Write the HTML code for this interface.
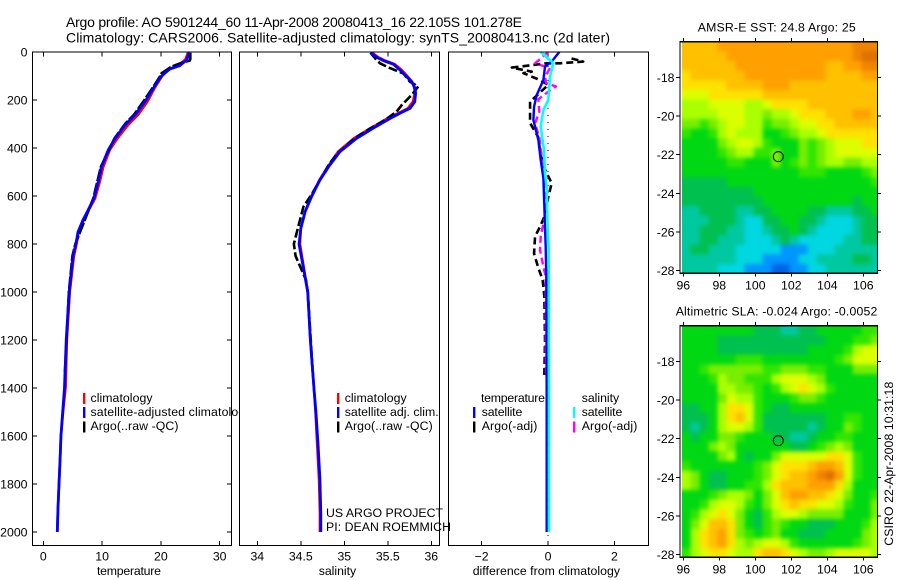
<!DOCTYPE html>
<html lang="en">
<head>
<meta charset="utf-8">
<title>Argo profile 5901244_60</title>
<style>
html,body{margin:0;padding:0;background:#fff;}
svg{display:block;font-family:"Liberation Sans",sans-serif;fill:#000;}
text{font-size:12.3px;}
.title{font-size:14px;}
.frame{fill:none;stroke:#000;stroke-width:1.2;shape-rendering:crispEdges;}
.tick{stroke:#000;stroke-width:1;shape-rendering:crispEdges;}
</style>
</head>
<body>
<svg id="chart" xmlns="http://www.w3.org/2000/svg" width="900" height="580" viewBox="0 0 900 580">
  <rect x="0" y="0" width="900" height="580" fill="#fff"/>
  <text class="title" x="66" y="27" textLength="456">Argo profile: AO 5901244_60 11-Apr-2008 20080413_16 22.105S 101.278E</text>
  <text class="title" x="66" y="42.5" textLength="544">Climatology: CARS2006. Satellite-adjusted climatology: synTS_20080413.nc (2d later)</text>

  <g id="panel-temp"></g>
  <g>
    <rect x="83" y="393" width="2.4" height="11" fill="#f00"/>
    <rect x="83" y="407" width="2.4" height="11" fill="#00f"/>
    <rect x="83" y="421.5" width="2.4" height="11" fill="#000"/>
    <text x="90.5" y="402" textLength="62">climatology</text>
    <text x="90.5" y="416" textLength="161">satellite-adjusted climatology</text>
    <text x="90.5" y="430" textLength="88">Argo(..raw -QC)</text>
  </g>

  <g id="panel-sal"></g>
  <g>
    <rect x="337" y="393" width="2.4" height="11" fill="#f00"/>
    <rect x="337" y="407" width="2.4" height="11" fill="#00f"/>
    <rect x="337" y="421.5" width="2.4" height="11" fill="#000"/>
    <text x="344.7" y="402" textLength="62">climatology</text>
    <text x="344.7" y="416" textLength="94">satellite adj. clim.</text>
    <text x="344.7" y="430" textLength="88">Argo(..raw -QC)</text>
  </g>

  <g id="panel-diff"></g>
  <g>
    <text x="481" y="402" textLength="64">temperature</text>
    <text x="581.7" y="402" textLength="37.5">salinity</text>
    <rect x="473" y="407" width="2.4" height="11" fill="#00f"/>
    <rect x="473" y="421.5" width="2.4" height="11" fill="#000"/>
    <rect x="573" y="407" width="2.4" height="11" fill="#0ff"/>
    <rect x="573" y="421.5" width="2.4" height="11" fill="#f0f"/>
    <text x="481.7" y="416" textLength="40.6">satellite</text>
    <text x="481.7" y="430" textLength="55.6">Argo(-adj)</text>
    <text x="581.7" y="416" textLength="40.6">satellite</text>
    <text x="581.7" y="430" textLength="55.6">Argo(-adj)</text>
  </g>

  <text x="326" y="517" textLength="117">US ARGO PROJECT</text>
  <text x="326" y="531" textLength="125">PI: DEAN ROEMMICH</text>

  <g id="map-sst"></g>
  <g id="map-sla"></g>
  <text x="697.7" y="31.5" textLength="158">AMSR-E SST: 24.8 Argo: 25</text>
  <text x="675.7" y="315.5" textLength="201.6">Altimetric SLA: -0.024 Argo: -0.0052</text>
  <text transform="translate(893 545.7) rotate(-90)" textLength="164">CSIRO 22-Apr-2008 10:31:18</text>
</svg>

<script>
// ---------- profile data ----------
const tempAxisTicks = [0, 10, 20, 30];
const salAxisTicks = ["34", "34.5", "35", "35.5", "36"];
const diffAxisTicks = [-2, 0, 2];
const pressureTicks = [0, 200, 400, 600, 800, 1000, 1200, 1400, 1600, 1800, 2000];

const tempClimP = [3, 30, 57, 71, 100, 151, 207, 262, 304, 360, 408, 478, 540, 610, 660, 700, 750, 800, 850, 1000, 1200, 1395, 1500, 1600, 1700, 1800, 1900, 2000];
const tempClim = [24.6, 24.2, 23.0, 21.3, 20.2, 18.9, 17.7, 16.1, 14.4, 12.6, 11.3, 10.2, 9.6, 8.8, 7.7, 6.9, 6.0, 5.65, 5.2, 4.5, 4.0, 3.8, 3.35, 3.0, 2.85, 2.67, 2.5, 2.38];
const tempSatP = [3, 33, 57, 71, 100, 151, 207, 262, 304, 360, 408, 478, 540, 610, 660, 700, 750, 800, 850, 1000, 1200, 1400, 1500, 1600, 1700, 1800, 1900, 2000];
const tempSat = [24.8, 24.4, 23.2, 21.5, 20.1, 18.7, 17.3, 15.6, 13.9, 12.2, 11.05, 9.9, 9.35, 8.6, 7.6, 6.75, 5.9, 5.55, 5.05, 4.4, 3.9, 3.6, 3.3, 3.0, 2.85, 2.67, 2.5, 2.38];
const tempArgoP = [3, 30, 36, 45, 61, 89, 100, 151, 207, 262, 297, 360, 478, 610, 800, 850, 1000, 1350];
const tempArgo = [25.0, 25.0, 24.9, 23.5, 21.8, 20.1, 19.9, 18.55, 17.0, 15.4, 14.0, 12.1, 9.8, 8.5, 5.45, 4.95, 4.35, 3.65];

const salClimP = [3, 22, 36, 51, 75, 103, 124, 151, 172, 207, 235, 255, 276, 318, 360, 415, 478, 533, 602, 665, 735, 800, 1000, 1200, 1395, 1505, 1645, 1783, 1922, 2000];
const salClim = [35.32, 35.39, 35.47, 35.58, 35.66, 35.73, 35.78, 35.805, 35.81, 35.79, 35.73, 35.62, 35.50, 35.30, 35.11, 34.93, 34.81, 34.715, 34.62, 34.55, 34.50, 34.49, 34.58, 34.61, 34.65, 34.67, 34.69, 34.71, 34.72, 34.72];
const salSatP = [3, 22, 36, 51, 75, 103, 124, 151, 172, 207, 235, 255, 276, 318, 360, 415, 478, 533, 602, 665, 735, 800, 1000, 1200, 1395, 1505, 1645, 1783, 1922, 2000];
const salSat = [35.30, 35.372, 35.45, 35.563, 35.64, 35.717, 35.775, 35.813, 35.82, 35.81, 35.755, 35.64, 35.53, 35.33, 35.14, 34.95, 34.82, 34.72, 34.625, 34.55, 34.50, 34.48, 34.58, 34.61, 34.65, 34.675, 34.70, 34.72, 34.73, 34.73];
const salArgoP = [3, 33, 47, 64, 90, 124, 144, 179, 221, 249, 283, 322, 360, 423, 465, 590, 645, 729, 800, 850, 900, 950, 1000, 1350];
const salArgo = [35.30, 35.37, 35.41, 35.506, 35.68, 35.755, 35.85, 35.775, 35.66, 35.60, 35.47, 35.28, 35.12, 34.92, 34.83, 34.63, 34.53, 34.47, 34.42, 34.44, 34.50, 34.56, 34.58, 34.64];

const diffTempSatP = [0, 40, 61, 117, 179, 228, 283, 367, 450, 525, 644, 733, 811, 950, 1400, 2000];
const diffTempSat = [0.34, 0.11, -0.09, -0.14, -0.34, -0.42, -0.44, -0.29, -0.22, -0.14, -0.11, -0.09, -0.07, -0.05, -0.04, -0.04];
const diffSalSatP = [0, 46, 103, 200, 242, 311, 408, 505, 561, 734, 811, 1400, 2000];
const diffSalSat = [-0.22, 0.16, 0.06, 0.01, -0.14, -0.22, -0.12, -0.09, -0.04, -0.01, 0.02, 0.03, 0.03];
const diffTempArgoP = [27, 40, 47, 47, 65, 82, 88, 117, 137, 207, 242, 296, 353, 430, 490, 547, 603, 686, 728, 769, 840, 900, 950, 1020, 1200, 1340, 1353];
const diffTempArgo = [0.71, 1.06, 0.36, -0.04, -1.09, -0.49, -0.74, -0.24, 0.01, -0.54, -0.54, -0.54, -0.30, -0.22, -0.09, 0.11, 0.01, -0.11, -0.24, -0.39, -0.42, -0.29, -0.16, -0.11, -0.09, -0.11, -0.11];
const diffSalArgoP = [0, 25, 47, 67, 103, 130, 144, 165, 197, 249, 297, 358, 436, 511, 630, 690, 769, 825, 880, 936, 1020, 1260, 1340];
const diffSalArgo = [0.0, -0.2, -0.39, 0.06, -0.09, -0.05, 0.24, 0.01, -0.29, -0.26, -0.39, -0.26, -0.19, -0.14, -0.09, -0.1, -0.22, -0.24, -0.16, -0.07, -0.07, -0.07, -0.06];

// ---------- map data: colour-scale levels, 0.5 degree cells, north to south ----------
const mapLonTicks = [96, 98, 100, 102, 104, 106];
const mapLatTicks = [-18, -20, -22, -24, -26, -28];
const argoLon = 101.278;
const argoLat = -22.105;

const sstLevels = [
[11,11,11,11,12,12,12,12,12,12,12,12,12,12,12,12,12,12,12,13,13,13],
[11,11,11,11,11,12,12,12,12,12,12,12,12,12,12,12,12,12,12,13,14,14],
[11,11,11,11,11,11,12,12,12,12,12,12,12,12,12,12,11,11,12,12,13,13],
[10,11,11,11,11,11,11,12,12,12,12,12,12,12,12,12,11,11,11,11,12,12],
[10,10,10,10,10,11,11,11,11,12,12,12,11,11,11,11,11,11,11,11,11,11],
[9,9,9,10,10,10,10,10,10,11,11,11,11,11,11,11,11,11,11,11,11,11],
[8,8,8,9,9,9,9,8,8,9,10,10,10,10,11,11,11,11,11,11,11,11],
[8,8,8,8,9,9,9,8,8,7,8,8,9,10,10,10,11,11,11,12,12,11],
[7,7,6,7,8,9,9,8,8,6,7,7,8,9,9,10,10,11,11,11,11,11],
[6,5,5,6,8,9,8,8,8,5,5,6,7,8,8,9,10,10,10,10,10,10],
[5,5,5,5,7,8,9,9,8,6,5,5,5,7,6,7,8,9,9,9,10,10],
[5,5,5,5,6,7,8,8,6,6,7,5,5,7,6,7,8,9,9,9,9,9],
[5,5,5,5,5,6,6,5,5,5,7,5,6,7,6,7,8,8,7,7,8,8],
[5,5,5,5,5,5,5,5,5,5,5,5,5,6,6,6,5,5,5,5,6,7],
[4,4,4,4,4,5,5,5,5,5,5,5,5,5,5,5,5,5,5,5,5,6],
[4,4,4,4,4,4,4,4,5,5,5,5,5,5,5,5,5,5,5,5,5,5],
[4,4,4,4,4,4,4,4,4,5,5,5,5,5,5,5,5,5,5,4,5,5],
[3,3,4,4,4,4,3,3,4,4,5,5,5,5,4,4,3,3,3,4,4,5],
[3,3,3,4,4,4,3,2,2,4,4,5,5,4,4,3,2,2,2,3,4,4],
[3,3,4,4,4,3,3,2,2,3,4,4,5,4,3,2,2,2,2,3,4,4],
[3,3,4,4,3,3,3,2,2,2,3,4,3,2,2,2,2,2,3,3,4,4],
[3,4,4,3,3,3,2,2,2,2,2,1,1,1,2,2,2,3,3,3,3,3],
[3,3,3,3,3,3,2,2,2,1,1,1,1,2,2,3,3,3,3,4,4,3],
[3,3,3,3,2,2,2,1,1,1,0,0,1,1,2,2,3,3,3,3,3,3]
];

const slaLevels = [
[5,5,5,5,5,5,5,5,4,4,4,3,3,4,4,5,5,5,5,5,6,6],
[5,5,5,5,4,4,4,4,4,4,4,4,4,4,4,4,5,5,5,6,6,7],
[5,5,5,5,4,4,4,4,4,4,4,4,4,4,5,5,5,5,6,8,9,9],
[5,5,5,5,5,5,6,6,6,5,5,5,5,5,5,5,5,6,7,9,9,9],
[5,5,6,7,7,7,7,7,7,6,6,7,7,7,6,6,5,5,5,7,7,7],
[5,5,5,6,8,7,7,6,6,6,8,9,9,9,8,7,5,5,5,5,5,5],
[5,5,5,5,8,8,7,7,6,5,6,8,9,10,9,8,6,5,5,5,5,5],
[5,5,5,5,7,9,8,8,6,5,5,5,6,7,7,6,5,5,5,5,5,5],
[4,4,5,5,8,10,10,9,6,5,4,4,5,5,5,5,5,5,5,5,5,5],
[4,4,4,5,8,10,11,9,6,4,4,4,4,4,4,4,5,5,6,6,5,5],
[4,3,4,5,8,9,9,8,6,4,4,4,4,4,3,4,5,5,7,6,5,5],
[5,4,5,5,7,7,6,5,5,5,4,4,3,3,4,5,5,6,6,5,5,5],
[5,5,5,7,8,7,5,5,5,5,5,5,4,4,5,6,7,8,7,5,5,5],
[5,5,5,5,7,8,5,4,5,5,7,9,9,9,9,9,10,10,9,6,5,5],
[6,5,5,5,5,5,5,5,6,7,9,10,10,10,11,12,12,11,9,6,5,5],
[8,7,5,4,4,5,5,5,6,7,9,10,11,11,12,13,14,12,9,6,5,5],
[8,7,5,4,4,5,5,6,6,8,10,11,11,11,12,12,12,10,8,5,5,5],
[5,5,5,6,7,8,8,7,5,7,9,11,12,12,11,11,10,9,7,5,5,6],
[5,5,6,8,9,9,8,6,5,7,9,10,11,10,10,9,9,8,6,5,5,7],
[5,6,8,9,10,9,7,5,4,6,8,9,9,8,7,7,7,7,5,5,5,7],
[5,7,9,11,11,10,7,5,4,6,7,6,5,5,4,4,4,5,5,5,6,8],
[5,8,10,11,12,10,7,6,5,6,7,5,5,4,4,4,5,5,5,5,7,8],
[5,8,10,11,12,10,8,7,8,9,9,8,6,5,5,5,5,5,5,6,7,8],
[6,8,9,10,10,9,8,8,10,11,11,10,9,8,7,7,8,9,9,9,9,8]
];

// ---------- drawing ----------
const NS = 'http://www.w3.org/2000/svg';
const levelColors = ['#0064e6','#0096ff','#00d7e1','#00c8a0','#00c050','#00d814','#30e600','#78ee00','#aaff00','#dcff00','#ffe100','#ffc000','#ffa000','#f08400','#e07000'];

function make(parent, tag, props, txt) {
  const el = document.createElementNS(NS, tag);
  for (const k in props) el.setAttribute(k, props[k]);
  if (txt !== undefined) el.textContent = txt;
  parent.appendChild(el);
  return el;
}
const yP = p => 52 + 0.24 * p;
const xTemp = t => 43.3 + 5.88 * t;
const xSal = s => 257.3 + 87 * (s - 34);
const xDiff = d => 548 + 33.2 * d;

function drawFrame(g, left, right, xFn, ticks, xName, titleX, titleLen) {
  const bg = make(g, 'rect', {x: left, y: 52, width: right - left, height: 493.5, fill: '#fff'});
  
  
  ticks.forEach(t => {
    const x = xFn(Number(t));
    const top = make(g, 'line', {x1: x, x2: x, y1: 52, y2: 56.5, class: 'tick'});
    
    
    const bot = make(g, 'line', {x1: x, x2: x, y1: 541, y2: 545.5, class: 'tick'});
    
    
    const lab = make(g, 'text', {x: x, y: 560.5, 'text-anchor': 'middle'}, String(t).replace('-', '\u2212'));
    
    
  });
  const title = make(g, 'text', {x: titleX, y: 575, textLength: titleLen}, xName);
  
  
}
function drawBorder(g, left, right) {
  const fr = make(g, 'rect', {x: left, y: 52, width: right - left, height: 493.5, class: 'frame'});
  
  
}
function drawLine(g, xFn, vals, pres, color, width, dash, name) {
  const pts = vals.map((v, i) => xFn(v).toFixed(2) + ',' + yP(pres[i]).toFixed(2)).join(' ');
  const ln = make(g, 'polyline', {points: pts, fill: 'none', stroke: color, 'stroke-width': width, 'stroke-linejoin': 'round'});
  if (dash) ln.setAttribute('stroke-dasharray', dash);
  
  
}

// temperature
const gT = document.getElementById('panel-temp');
drawFrame(gT, 32.5, 231.5, xTemp, tempAxisTicks, 'temperature', 97, 64);
pressureTicks.forEach(p => {
  const y = yP(p);
  const l = make(gT, 'line', {x1: 32.5, x2: 37, y1: y, y2: y, class: 'tick'});
  
  
  const r = make(gT, 'line', {x1: 227, x2: 231.5, y1: y, y2: y, class: 'tick'});
  
  
  const lab = make(gT, 'text', {x: 27.5, y: y + 4.5, 'text-anchor': 'end'}, String(p));
  
  
});
drawLine(gT, xTemp, tempClim, tempClimP, '#f00', 2.6, null, 'temperature-climatology-line');
drawLine(gT, xTemp, tempArgo, tempArgoP, '#000', 2.6, '12 2', 'temperature-argo-line');
drawLine(gT, xTemp, tempSat, tempSatP, '#00f', 2.8, null, 'temperature-satellite-line');
drawBorder(gT, 32.5, 231.5);

// salinity
const gS = document.getElementById('panel-sal');
drawFrame(gS, 239.5, 439.5, xSal, salAxisTicks, 'salinity', 318.7, 37.5);
drawLine(gS, xSal, salClim, salClimP, '#f00', 2.6, null, 'salinity-climatology-line');
drawLine(gS, xSal, salArgo, salArgoP, '#000', 2.6, '9 3', 'salinity-argo-line');
drawLine(gS, xSal, salSat, salSatP, '#00f', 2.8, null, 'salinity-satellite-line');
drawBorder(gS, 239.5, 439.5);

// differences
const gD = document.getElementById('panel-diff');
drawFrame(gD, 448.5, 648.5, xDiff, diffAxisTicks, 'difference from climatology', 472.7, 147.3);
const zero = make(gD, 'line', {x1: xDiff(0), x2: xDiff(0), y1: 52, y2: 541, stroke: '#000', 'stroke-width': 1, 'stroke-dasharray': '1 6'});


drawLine(gD, xDiff, diffTempArgo, diffTempArgoP, '#000', 2.6, '7 4', 'temperature-argo-difference-line');
drawLine(gD, xDiff, diffSalArgo, diffSalArgoP, '#f0f', 2.4, '7 4', 'salinity-argo-difference-line');
drawLine(gD, xDiff, diffTempSat, diffTempSatP, '#00f', 2.4, null, 'temperature-satellite-difference-line');
drawLine(gD, xDiff, diffSalSat, diffSalSatP, '#0ff', 2.6, null, 'salinity-satellite-difference-line');
drawBorder(gD, 448.5, 648.5);

// maps
function drawMap(g, levels, top, lat18y, id, xLabelY) {
  const xM = lon => 683.3 + 18 * (lon - 96);
  const yM = lat => lat18y + 19.33 * (-18 - lat);
  const h = 231.5;
  const clip = make(g, 'clipPath', {id: id});
  make(clip, 'rect', {x: 682, y: top, width: 195.5, height: h});
  const flt = make(g, 'filter', {id: id + '-soft', filterUnits: 'userSpaceOnUse', x: 660, y: top - 20, width: 240, height: h + 40, 'color-interpolation-filters': 'sRGB'});
  make(flt, 'feGaussianBlur', {stdDeviation: 2});
  const ct = make(flt, 'feComponentTransfer', {});
  make(ct, 'feFuncA', {type: 'linear', slope: 30});
  const clipped = make(g, 'g', {'clip-path': 'url(#' + id + ')'});
  const cells = make(clipped, 'g', {filter: 'url(#' + id + '-soft)'});
  
  
  levels.forEach((row, r) => {
    row.forEach((v, c) => {
      const lonW = 95.91 + 0.5 * c, latN = -16.16 - 0.5 * r;
      const cell = make(cells, 'rect', {x: xM(lonW), y: yM(latN), width: 9.2, height: 9.9, fill: levelColors[v]});
      
      
    });
  });
  const fr = make(g, 'rect', {x: 680, y: top, width: 197.5, height: h, class: 'frame'});
  
  
  mapLonTicks.forEach(lon => {
    const x = xM(lon);
    const t1 = make(g, 'line', {x1: x, x2: x, y1: top - 3.5, y2: top, class: 'tick'});
    
    
    const t2 = make(g, 'line', {x1: x, x2: x, y1: top + h, y2: top + h + 3.5, class: 'tick'});
    
    
    const lab = make(g, 'text', {x: x, y: xLabelY, 'text-anchor': 'middle'}, String(lon));
    
    
  });
  mapLatTicks.forEach(lat => {
    const y = yM(lat);
    const t1 = make(g, 'line', {x1: 676, x2: 680, y1: y, y2: y, class: 'tick'});
    
    
    const t2 = make(g, 'line', {x1: 877.5, x2: 881, y1: y, y2: y, class: 'tick'});
    
    
    const lab = make(g, 'text', {x: 674.5, y: y + 4.5, 'text-anchor': 'end'}, String(lat));
    
    
  });
  const mk = make(g, 'circle', {cx: xM(argoLon), cy: yM(argoLat), r: 5, fill: 'none', stroke: '#000', 'stroke-width': 1});
  
  
}
drawMap(document.getElementById('map-sst'), sstLevels, 41.7, 77.3, 'clip-sst', 289.5);
drawMap(document.getElementById('map-sla'), slaLevels, 325.7, 361.3, 'clip-sla', 573.5);
</script>
</body>
</html>
